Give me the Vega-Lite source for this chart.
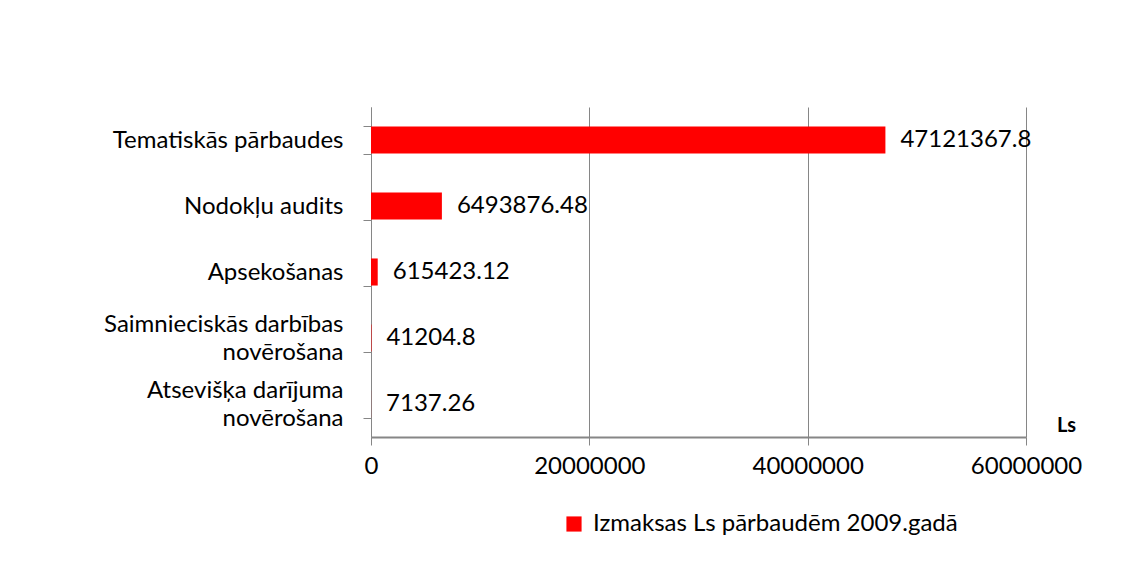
{
  "$schema": "https://vega.github.io/schema/vega-lite/v6.json",
  "autosize": {"type": "none"},
  "width": 655,
  "height": 330,
  "padding": {"left": 371, "top": 107, "right": 119, "bottom": 137},
  "background": "white",
  "config": {
    "view": {"stroke": null},
    "font": "Lato"
  },
  "data": {
    "values": [
      {"category": "Tematiskās pārbaudes", "value": 47121367.8, "series": "Izmaksas Ls pārbaudēm 2009.gadā"},
      {"category": "Nodokļu audits", "value": 6493876.48, "series": "Izmaksas Ls pārbaudēm 2009.gadā"},
      {"category": "Apsekošanas", "value": 615423.12, "series": "Izmaksas Ls pārbaudēm 2009.gadā"},
      {"category": "Saimnieciskās darbības|novērošana", "value": 41204.8, "series": "Izmaksas Ls pārbaudēm 2009.gadā"},
      {"category": "Atsevišķa darījuma|novērošana", "value": 7137.26, "series": "Izmaksas Ls pārbaudēm 2009.gadā"}
    ]
  },
  "encoding": {
    "y": {
      "field": "category",
      "type": "nominal",
      "sort": null,
      "scale": {"paddingInner": 0.59, "paddingOuter": 0.295},
      "axis": {
        "title": null,
        "labelExpr": "indexof(datum.label, '|') >= 0 ? [split(datum.label, '|')[0], '\u2800', split(datum.label, '|')[1]] : ['\u00a0', datum.label]",
        "labelFont": "Lato",
        "labelFontSize": 24,
        "labelColor": "#000000",
        "labelLineHeight": 14,
        "labelOffset": -14,
        "labelPadding": 20,
        "labelLimit": 400,
        "tickSize": 8,
        "tickColor": "#868686",
        "domainColor": "#868686",
        "tickBand": "extent",
        "grid": false
      }
    },
    "x": {
      "field": "value",
      "type": "quantitative",
      "scale": {"domain": [0, 60000000], "nice": false},
      "axis": {
        "title": "Ls",
        "titleX": 695,
        "titleY": -2,
        "titleAlign": "center",
        "titleBaseline": "bottom",
        "titleFont": "Lato",
        "titleFontSize": 20,
        "titleFontWeight": "bold",
        "titleColor": "#000000",
        "values": [0, 20000000, 40000000, 60000000],
        "format": "d",
        "labelFont": "Lato",
        "labelFontSize": 24,
        "labelColor": "#000000",
        "labelPadding": 9,
        "labelFlush": false,
        "tickSize": 8,
        "tickColor": "#868686",
        "domainColor": "#868686",
        "domainWidth": 2,
        "grid": true,
        "gridColor": "#868686",
        "gridWidth": 1
      }
    }
  },
  "layer": [
    {
      "mark": {"type": "bar"},
      "encoding": {
        "color": {
          "field": "series",
          "type": "nominal",
          "scale": {"range": ["#ff0000"]},
          "legend": {
            "title": null,
            "orient": "none",
            "legendX": 191,
            "legendY": 405,
            "symbolType": "square",
            "symbolSize": 230,
            "symbolStrokeWidth": 0,
            "labelFont": "Lato",
            "labelFontSize": 24,
            "labelColor": "#000000",
            "labelOffset": 7,
            "labelLimit": 600
          }
        }
      }
    },
    {
      "mark": {"type": "text", "align": "left", "baseline": "middle", "dx": 15, "font": "Lato", "fontSize": 24, "color": "#000000"},
      "encoding": {
        "text": {"field": "value", "type": "quantitative", "format": "~f"}
      }
    }
  ]
}
